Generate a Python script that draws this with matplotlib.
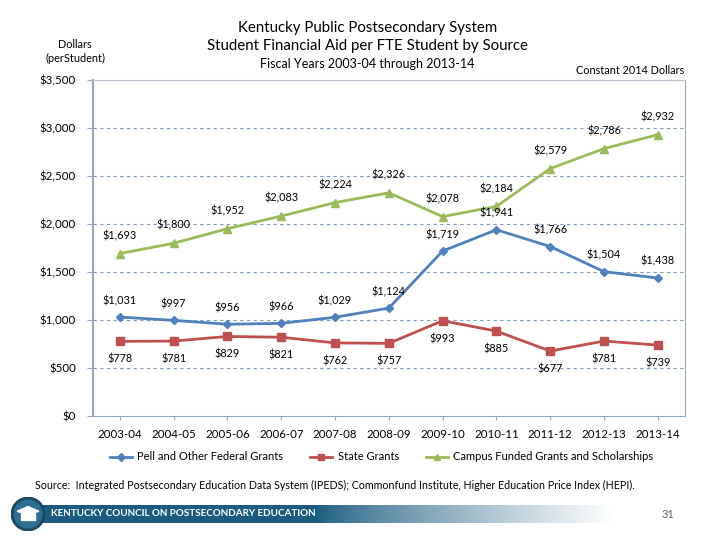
import matplotlib.pyplot as plt
import numpy as np
from matplotlib.lines import Line2D

plt.rcParams['font.family'] = ['Lato', 'DejaVu Sans']

years = ["2003-04", "2004-05", "2005-06", "2006-07", "2007-08", "2008-09",
         "2009-10", "2010-11", "2011-12", "2012-13", "2013-14"]
pell = [1031, 997, 956, 966, 1029, 1124, 1719, 1941, 1766, 1504, 1438]
state = [778, 781, 829, 821, 762, 757, 993, 885, 677, 781, 739]
campus = [1693, 1800, 1952, 2083, 2224, 2326, 2078, 2184, 2579, 2786, 2932]
yticks = [0, 500, 1000, 1500, 2000, 2500, 3000, 3500]

blue = "#4F81BD"
red = "#C0504D"
green = "#9BBB59"

fig = plt.figure(figsize=(7.2, 5.4), dpi=100)
ax = fig.add_axes([0.129, 0.2296, 0.822, 0.622])
x = np.arange(len(years))

ax.plot(x, pell, color=blue, lw=2, marker="D", ms=4.5)
ax.plot(x, state, color=red, lw=2, marker="s", ms=6)
ax.plot(x, campus, color=green, lw=2, marker="^", ms=6)

def fmt(v):
    return "${:,}".format(v)

for xi, v in zip(x, campus):
    ax.annotate(fmt(v), (xi, v), xytext=(0, 9), textcoords="offset points",
                ha="center", va="bottom", fontsize=7.8)
for xi, v in zip(x, pell):
    ax.annotate(fmt(v), (xi, v), xytext=(0, 8), textcoords="offset points",
                ha="center", va="bottom", fontsize=7.8)
for xi, v in zip(x, state):
    ax.annotate(fmt(v), (xi, v), xytext=(0, -9), textcoords="offset points",
                ha="center", va="top", fontsize=7.8)

ax.set_xlim(-0.5, len(years) - 0.5)
ax.set_ylim(0, 3500)
ax.set_yticks(yticks)
ax.set_yticklabels([fmt(v) for v in yticks], fontsize=8.3)
ax.set_xticks(x)
ax.set_xticklabels(years, fontsize=8.3)
ax.tick_params(axis="x", length=3, color="#8EA9C8", pad=6)
ax.tick_params(axis="y", length=4, color="#8EA9C8", pad=8)
for v in yticks[1:-1]:
    ax.axhline(v, color="#7F9DB9", lw=0.8, ls=(0, (3, 3)), zorder=0)
ax.spines["left"].set_color("#8EA9C8")
ax.spines["left"].set_linewidth(1.5)
ax.spines["bottom"].set_color("#8EA9C8")
ax.spines["top"].set_color("#B8C6D4")
ax.spines["right"].set_color("#A0A8B0")

handles = [Line2D([], [], color=blue, lw=2, marker="D", ms=4),
           Line2D([], [], color=red, lw=2, marker="s", ms=5),
           Line2D([], [], color=green, lw=2, marker="^", ms=5)]
fig.legend(handles, ["Pell and Other Federal Grants", "State Grants",
                     "Campus Funded Grants and Scholarships"],
           loc="center", bbox_to_anchor=(0.53, 1 - 457 / 540), ncol=3,
           frameon=False, fontsize=8, columnspacing=2.4, handlelength=2,
           handletextpad=0.5)

fig.text(0.51, 1 - 28 / 540, "Kentucky Public Postsecondary System",
         ha="center", va="center", fontsize=10.8)
fig.text(0.51, 1 - 46 / 540, "Student Financial Aid per FTE Student by Source",
         ha="center", va="center", fontsize=10.8)
fig.text(0.51, 1 - 64 / 540, "Fiscal Years 2003-04 through 2013-14",
         ha="center", va="center", fontsize=9)
fig.text(75 / 720, 1 - 44 / 540, "Dollars", ha="center", va="center", fontsize=7.8)
fig.text(75 / 720, 1 - 58 / 540, "(perStudent)", ha="center", va="center", fontsize=7.8)
fig.text(630 / 720, 1 - 70 / 540, "Constant 2014 Dollars", ha="center",
         va="center", fontsize=7.8)
fig.text(35 / 720, 1 - 485 / 540,
         "Source:  Integrated Postsecondary Education Data System (IPEDS); "
         "Commonfund Institute, Higher Education Price Index (HEPI).",
         ha="left", va="center", fontsize=7.7)

# footer banner
bar = fig.add_axes([38 / 720, 1 - 523 / 540, 662 / 720, 18 / 540])
grad = np.linspace(0, 1, 256).reshape(1, -1)
c0 = np.array([0x1A, 0x5C, 0x80]) / 255
c1 = np.array([1.0, 1.0, 1.0])
t = np.clip((grad - 0.42) / 0.45, 0, 1) ** 0.8
img = c0[None, None, :] * (1 - t[..., None]) + c1[None, None, :] * t[..., None]
bar.imshow(img, aspect="auto", extent=[0, 1, 0, 1])
bar.set_axis_off()
bar.text(0.02, 0.5, "KENTUCKY COUNCIL ON POSTSECONDARY EDUCATION", color="white",
         fontsize=7.1, fontweight="bold", va="center", ha="left")
fig.text(668 / 720, 1 - 514 / 540, "31", color="#666666", fontsize=8,
         va="center", ha="center")

logo = fig.add_axes([11 / 720, 1 - 531 / 540, 34 / 720, 34 / 540])
logo.add_patch(plt.Circle((0.5, 0.5), 0.49, color="#1B4760"))
logo.add_patch(plt.Circle((0.5, 0.5), 0.41, color="#2C6E92"))
logo.add_patch(plt.Polygon([[0.18, 0.58], [0.5, 0.72], [0.82, 0.58], [0.5, 0.47]],
                           color="white"))
logo.add_patch(plt.Rectangle((0.3, 0.32), 0.4, 0.2, color="white"))
logo.set_xlim(0, 1)
logo.set_ylim(0, 1)
logo.set_aspect("equal")
logo.set_axis_off()

fig.savefig("out.png", dpi=100)
